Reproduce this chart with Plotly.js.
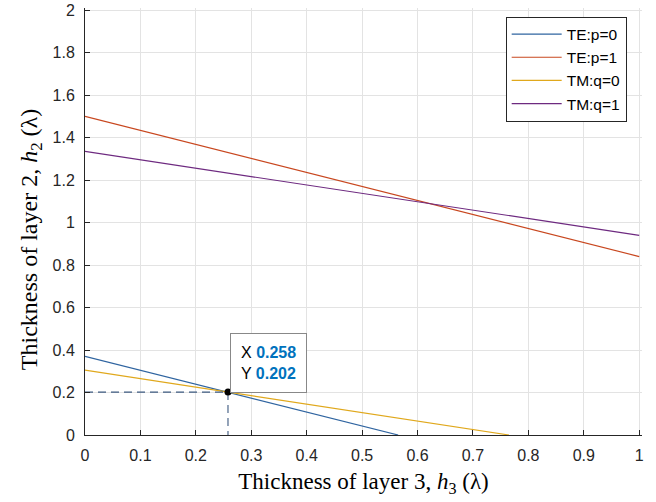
<!DOCTYPE html>
<html>
<head>
<meta charset="utf-8">
<script src="https://cdn.plot.ly/plotly-3.0.1.min.js"></script>
<style>html,body{margin:0;padding:0;background:#fff;}#chart{width:656px;height:502px;}</style>
</head>
<body>
<div id="chart"></div>
<script>
const h3 = [0, 1];
const teP0_x = [0, 0.565];
const teP0_y = [0.370, 0];
const teP1_y = [1.500, 0.840];
const tmQ0_x = [0, 0.765];
const tmQ0_y = [0.305, 0];
const tmQ1_y = [1.335, 0.940];
const tipX = 0.258;
const tipY = 0.202;
const names = ['TE:p=0', 'TE:p=1', 'TM:q=0', 'TM:q=1'];
const colors = ['#2f64a0', '#c8471f', '#e0a81c', '#6e2a80'];
const xTicks = [0,0.1,0.2,0.3,0.4,0.5,0.6,0.7,0.8,0.9,1];
const xTickText = ['0','0.1','0.2','0.3','0.4','0.5','0.6','0.7','0.8','0.9','1'];
const yTicks = [0,0.2,0.4,0.6,0.8,1,1.2,1.4,1.6,1.8,2];
const yTickText = ['0','0.2','0.4','0.6','0.8','1','1.2','1.4','1.6','1.8','2'];

const traces = [
  {x: teP0_x, y: teP0_y, name: names[0], mode: 'lines', line: {color: colors[0], width: 1.2}},
  {x: h3, y: teP1_y, name: names[1], mode: 'lines', line: {color: colors[1], width: 1.2}},
  {x: tmQ0_x, y: tmQ0_y, name: names[2], mode: 'lines', line: {color: colors[2], width: 1.2}},
  {x: h3, y: tmQ1_y, name: names[3], mode: 'lines', line: {color: colors[3], width: 1.2}},
  {x: [0, tipX, tipX], y: [tipY, tipY, 0], mode: 'lines', showlegend: false,
   line: {color: '#3d5a80', width: 1.1, dash: '8px,5px'}, hoverinfo: 'skip'},
  {x: [tipX], y: [tipY], mode: 'markers', showlegend: false,
   marker: {color: '#000', size: 7}, hoverinfo: 'skip'}
];

const layout = {
  width: 656, height: 502,
  margin: {l: 85, r: 14, t: 8, b: 67},
  paper_bgcolor: '#fff', plot_bgcolor: '#fff',
  font: {family: 'Liberation Sans, Arial, sans-serif', size: 16, color: '#262626'},
  showlegend: true,
  legend: {x: 0.9725, y: 0.98, xanchor: 'right', yanchor: 'top',
    bgcolor: '#fff', bordercolor: '#262626', borderwidth: 1,
    font: {family: 'Liberation Sans, Arial, sans-serif', size: 15.5, color: '#000'},
    tracegroupgap: 0, itemwidth: 50},
  xaxis: {range: [0, 1.005], tickvals: xTicks, ticktext: xTickText,
    showgrid: true, gridcolor: '#e3e3e3', gridwidth: 1, zeroline: false,
    showline: true, linecolor: '#262626', linewidth: 1,
    ticks: 'inside', ticklen: 5, tickcolor: '#262626', ticklabelstandoff: 6,
    ticklabeloverflow: 'allow',
    tickfont: {size: 16, color: '#262626'},
    title: {text: 'Thickness of layer 3, <i>h</i><sub>3</sub> (λ)',
      font: {family: 'Liberation Serif, Times New Roman, serif', size: 23, color: '#000'}, standoff: 9}},
  yaxis: {range: [0, 2.01], tickvals: yTicks, ticktext: yTickText,
    showgrid: true, gridcolor: '#e3e3e3', gridwidth: 1, zeroline: false,
    showline: true, linecolor: '#262626', linewidth: 1,
    ticks: 'inside', ticklen: 5, tickcolor: '#262626', ticklabelstandoff: 6,
    ticklabeloverflow: 'allow',
    tickfont: {size: 16, color: '#262626'},
    title: {text: 'Thickness of layer 2, <i>h</i><sub>2</sub> (λ)&nbsp;&nbsp;&nbsp;&nbsp;&nbsp;&nbsp;',
      font: {family: 'Liberation Serif, Times New Roman, serif', size: 24, color: '#000'}, standoff: 8}},
  annotations: [{
    x: 0.2617, y: 0.196, xref: 'x', yref: 'y', xanchor: 'left', yanchor: 'bottom',
    showarrow: false, align: 'left',
    text: 'X <b><span style="color:#0072BD">' + tipX.toFixed(3) + '</span></b><br>Y <b><span style="color:#0072BD">' + tipY.toFixed(3) + '</span></b>',
    font: {family: 'Liberation Sans, Arial, sans-serif', size: 16, color: '#000'},
    bgcolor: '#fff', bordercolor: '#888', borderwidth: 1, borderpad: 10
  }]
};

Plotly.newPlot('chart', traces, layout, {displayModeBar: false, staticPlot: true});
</script>
</body>
</html>
